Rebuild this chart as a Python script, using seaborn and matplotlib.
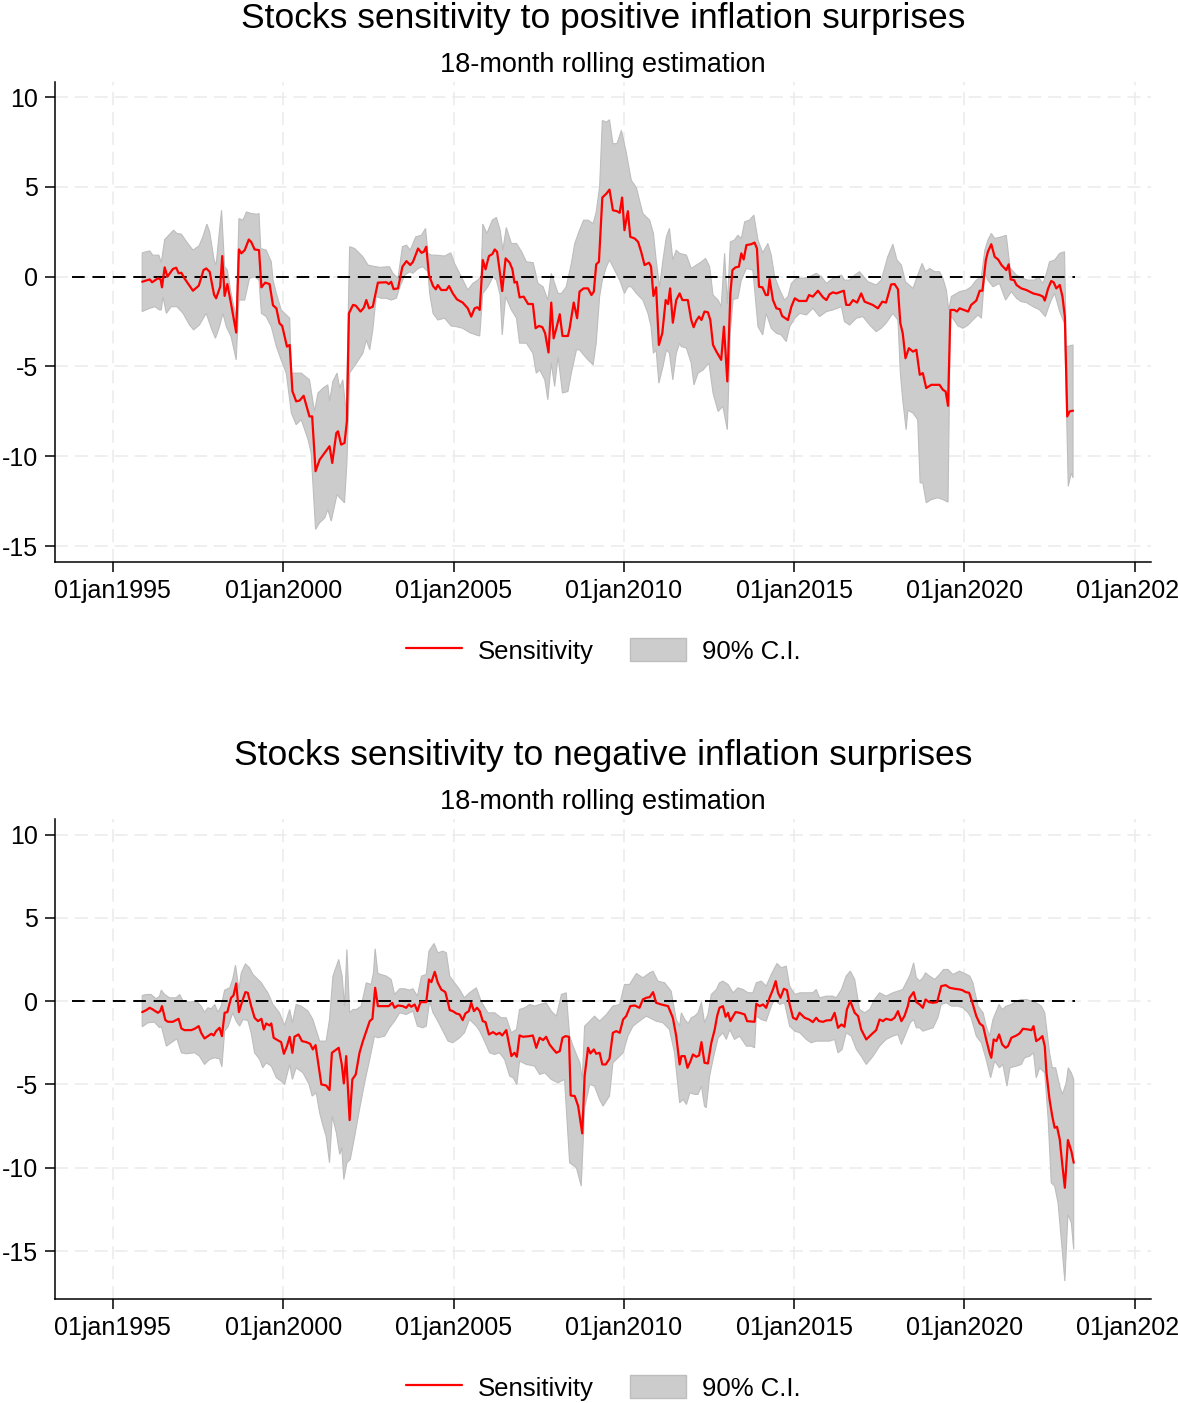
import matplotlib
matplotlib.use("Agg")
import matplotlib.pyplot as plt
from matplotlib.lines import Line2D
from matplotlib.patches import Patch
import seaborn as sns

sns.set_theme(style="white")
plt.rcParams["font.family"] = ["Liberation Sans", "DejaVu Sans"]
plt.rcParams["text.color"] = "black"
plt.rcParams["xtick.color"] = "black"
plt.rcParams["ytick.color"] = "black"

# ---- data: (decimal year, value) ----
pos_sens = [
    (1995.86, -0.28), (1996.08, -0.15), (1996.15, -0.31), (1996.32, -0.09), (1996.40, -0.15), (1996.44, -0.59),
    (1996.52, 0.52), (1996.60, 0.0), (1996.76, 0.43), (1996.86, 0.50), (1996.93, 0.19), (1997.01, 0.22),
    (1997.10, -0.09), (1997.35, -0.78), (1997.52, -0.50), (1997.66, 0.37), (1997.74, 0.46), (1997.84, 0.28),
    (1997.97, -1.0), (1998.03, -1.2), (1998.15, -0.56), (1998.21, 1.15), (1998.28, -1.07), (1998.36, -0.41),
    (1998.47, -1.52), (1998.62, -3.11), (1998.70, 1.52), (1998.77, 1.30), (1998.87, 1.48), (1998.99, 2.07),
    (1999.06, 1.94), (1999.16, 1.52), (1999.29, 1.48), (1999.36, -0.59), (1999.47, -0.33), (1999.60, -0.41),
    (1999.70, -1.59), (1999.80, -1.76), (1999.89, -2.59), (1999.97, -2.74), (2000.11, -3.89), (2000.19, -3.80),
    (2000.27, -6.37), (2000.38, -6.94), (2000.48, -6.90), (2000.60, -6.63), (2000.77, -7.78), (2000.85, -7.78),
    (2000.95, -10.83), (2001.07, -10.19), (2001.36, -9.44), (2001.44, -10.37), (2001.56, -8.70), (2001.61, -8.61),
    (2001.70, -9.35), (2001.80, -9.26), (2001.87, -8.06), (2001.93, -2.04), (2002.05, -1.57), (2002.13, -1.61),
    (2002.27, -1.94), (2002.37, -1.72), (2002.44, -1.30), (2002.52, -1.76), (2002.63, -1.67), (2002.78, -0.33),
    (2003.03, -0.31), (2003.10, -0.41), (2003.17, -0.28), (2003.24, -0.69), (2003.37, -0.65), (2003.50, 0.56),
    (2003.62, 0.87), (2003.73, 0.65), (2003.81, 0.83), (2003.96, 1.57), (2004.06, 1.33), (2004.13, 1.39),
    (2004.20, 1.67), (2004.28, 0.09), (2004.40, -0.52), (2004.48, -0.70), (2004.54, -0.46), (2004.64, -0.74),
    (2004.79, -0.74), (2004.87, -0.52), (2004.98, -0.93), (2005.10, -1.26), (2005.27, -1.44), (2005.42, -1.76),
    (2005.52, -2.22), (2005.62, -1.76), (2005.70, -1.70), (2005.77, -1.85), (2005.86, 0.93), (2005.94, 0.41),
    (2006.04, 1.15), (2006.14, 1.26), (2006.21, 1.52), (2006.28, 1.39), (2006.35, 0.41), (2006.43, -0.80),
    (2006.53, 1.02), (2006.65, 0.78), (2006.73, 0.41), (2006.79, -0.33), (2006.86, -0.28), (2006.94, -1.15),
    (2007.06, -1.11), (2007.19, -1.52), (2007.33, -1.52), (2007.41, -2.87), (2007.51, -2.74), (2007.61, -2.81),
    (2007.69, -3.15), (2007.79, -4.22), (2007.87, -1.44), (2007.94, -3.43), (2008.02, -2.87), (2008.12, -2.09),
    (2008.20, -3.30), (2008.36, -3.30), (2008.41, -2.87), (2008.53, -1.44), (2008.63, -2.31), (2008.70, -0.83),
    (2008.82, -0.65), (2008.95, -0.65), (2009.05, -1.02), (2009.12, -0.83), (2009.19, 0.69), (2009.27, 0.83),
    (2009.37, 4.41), (2009.49, 4.63), (2009.58, 4.85), (2009.68, 3.70), (2009.80, 3.65), (2009.88, 3.56),
    (2009.95, 4.41), (2010.02, 2.59), (2010.07, 3.15), (2010.12, 3.65), (2010.19, 2.22), (2010.32, 2.13),
    (2010.42, 1.94), (2010.51, 1.39), (2010.61, 0.65), (2010.74, 0.78), (2010.80, 0.56), (2010.87, -1.07),
    (2010.95, -0.59), (2011.03, -3.80), (2011.13, -3.15), (2011.23, -1.30), (2011.30, -1.52), (2011.36, -0.65),
    (2011.44, -2.56), (2011.54, -1.30), (2011.64, -0.93), (2011.72, -1.30), (2011.88, -1.30), (2011.98, -2.41),
    (2012.05, -2.81), (2012.13, -2.44), (2012.21, -2.22), (2012.28, -2.41), (2012.37, -1.94), (2012.47, -1.98),
    (2012.54, -2.41), (2012.62, -3.80), (2012.72, -4.17), (2012.86, -4.63), (2012.94, -2.78), (2013.04, -5.83),
    (2013.13, -0.93), (2013.19, 0.37), (2013.28, 0.52), (2013.38, 0.56), (2013.45, 1.30), (2013.52, 0.96),
    (2013.60, 1.76), (2013.74, 1.81), (2013.84, 1.90), (2013.91, 1.57), (2013.97, -0.56), (2014.07, -0.59),
    (2014.17, -1.02), (2014.23, -1.02), (2014.28, -0.13), (2014.38, -1.30), (2014.48, -1.76), (2014.58, -1.81),
    (2014.65, -2.19), (2014.82, -2.41), (2014.92, -1.67), (2015.02, -1.20), (2015.14, -1.35), (2015.36, -1.35),
    (2015.44, -1.02), (2015.55, -1.11), (2015.70, -0.78), (2015.85, -1.15), (2015.95, -1.30), (2016.04, -0.98),
    (2016.14, -0.87), (2016.24, -0.93), (2016.39, -0.83), (2016.46, -0.78), (2016.53, -1.57), (2016.63, -1.57),
    (2016.73, -1.30), (2016.85, -1.44), (2016.97, -0.93), (2017.07, -1.39), (2017.31, -1.57), (2017.46, -1.76),
    (2017.59, -1.39), (2017.70, -1.44), (2017.85, -0.43), (2017.95, -0.41), (2018.05, -0.70), (2018.12, -2.59),
    (2018.19, -3.15), (2018.27, -4.54), (2018.37, -3.98), (2018.49, -4.17), (2018.59, -4.07), (2018.69, -5.46),
    (2018.78, -5.37), (2018.88, -6.20), (2019.03, -6.02), (2019.27, -6.02), (2019.37, -6.30), (2019.45, -6.39),
    (2019.52, -7.19), (2019.59, -1.85), (2019.71, -1.85), (2019.78, -1.94), (2019.86, -1.76), (2020.11, -1.94),
    (2020.20, -1.57), (2020.35, -1.33), (2020.45, -0.78), (2020.53, -0.78), (2020.63, 0.93), (2020.69, 1.39),
    (2020.79, 1.81), (2020.89, 1.11), (2020.99, 0.96), (2021.09, 0.65), (2021.23, 0.37), (2021.30, 0.69),
    (2021.36, -0.15), (2021.46, -0.19), (2021.53, -0.46), (2021.67, -0.65), (2021.82, -0.74), (2022.02, -0.93),
    (2022.21, -1.02), (2022.31, -1.11), (2022.36, -1.33), (2022.46, -0.65), (2022.55, -0.24), (2022.62, -0.31),
    (2022.70, -0.65), (2022.80, -0.46), (2022.88, -1.11), (2022.95, -2.22), (2023.02, -7.78), (2023.09, -7.50),
    (2023.19, -7.46),
]
pos_hi = [
    (1995.86, 1.33), (1996.08, 1.44), (1996.17, 1.20), (1996.35, 1.20), (1996.42, 0.78), (1996.52, 2.07),
    (1996.66, 2.35), (1996.78, 2.59), (1996.88, 2.41), (1997.01, 2.37), (1997.15, 1.98), (1997.35, 1.48),
    (1997.53, 1.72), (1997.64, 2.22), (1997.76, 2.93), (1997.84, 2.50), (1997.97, 0.93), (1998.03, 0.65),
    (1998.11, 2.22), (1998.19, 3.70), (1998.28, 0.56), (1998.36, 0.37), (1998.47, -0.93), (1998.62, -2.3),
    (1998.70, 3.24), (1998.82, 3.15), (1998.92, 3.61), (1999.06, 3.52), (1999.23, 3.48), (1999.29, 3.52),
    (1999.34, 1.57), (1999.50, 1.48), (1999.65, 0.83), (1999.70, -0.19), (1999.80, -0.93), (1999.94, -1.85),
    (2000.19, -2.31), (2000.24, -5.37), (2000.38, -5.37), (2000.53, -5.37), (2000.77, -5.74), (2000.92, -7.50),
    (2001.02, -6.48), (2001.17, -6.20), (2001.31, -6.02), (2001.36, -6.94), (2001.46, -5.83), (2001.58, -5.37),
    (2001.66, -6.20), (2001.75, -5.74), (2001.85, -7.6), (2001.95, 1.67), (2002.10, 1.57), (2002.34, 1.11),
    (2002.49, 0.65), (2002.63, 0.59), (2002.83, 0.52), (2003.12, 0.56), (2003.22, 0.19), (2003.37, -0.09),
    (2003.50, 1.67), (2003.62, 1.76), (2003.73, 1.48), (2003.89, 2.22), (2004.06, 2.31), (2004.18, 2.69),
    (2004.25, 1.30), (2004.35, 1.20), (2004.50, 1.20), (2004.74, 1.15), (2004.92, 1.33), (2005.03, 0.74),
    (2005.18, 0.19), (2005.42, -0.74), (2005.57, -0.37), (2005.71, -0.19), (2005.81, 0.0), (2005.86, 2.93),
    (2005.98, 2.41), (2006.14, 3.15), (2006.26, 3.30), (2006.37, 2.59), (2006.45, 1.48), (2006.55, 2.74),
    (2006.70, 1.85), (2006.85, 1.85), (2007.00, 1.39), (2007.14, 0.83), (2007.34, 0.78), (2007.48, -0.37),
    (2007.63, -0.56), (2007.77, -1.30), (2007.87, 0.19), (2007.97, -0.37), (2008.07, -0.93), (2008.17, -0.93),
    (2008.31, -0.56), (2008.46, 0.74), (2008.56, 1.85), (2008.70, 2.59), (2008.82, 3.15), (2008.95, 3.15),
    (2009.10, 2.96), (2009.19, 3.61), (2009.29, 5.0), (2009.37, 8.70), (2009.49, 8.61), (2009.58, 8.74),
    (2009.68, 7.41), (2009.80, 7.41), (2009.93, 8.15), (2010.07, 6.94), (2010.22, 5.37), (2010.37, 4.96),
    (2010.56, 3.52), (2010.76, 3.15), (2010.87, 2.41), (2010.95, 0.93), (2011.05, -0.56), (2011.15, 0.93),
    (2011.25, 2.22), (2011.34, 2.69), (2011.44, 0.93), (2011.54, 1.48), (2011.64, 1.30), (2011.84, 1.20),
    (2011.98, 0.46), (2012.13, 0.65), (2012.28, 0.83), (2012.40, 1.02), (2012.52, 0.56), (2012.62, -1.02),
    (2012.77, -1.30), (2012.86, -1.67), (2012.96, 1.30), (2013.04, -1.5), (2013.13, 1.94), (2013.25, 2.04),
    (2013.35, 2.31), (2013.45, 2.13), (2013.55, 3.06), (2013.69, 3.15), (2013.82, 3.43), (2013.94, 2.04),
    (2014.08, 1.33), (2014.23, 1.85), (2014.33, 1.20), (2014.43, 0.0), (2014.58, -0.74), (2014.72, -1.30),
    (2014.82, -1.11), (2014.92, -0.37), (2015.07, -0.09), (2015.26, -0.09), (2015.46, 0.0), (2015.65, 0.19),
    (2015.80, 0.0), (2015.95, -0.37), (2016.14, -0.09), (2016.39, 0.09), (2016.48, -0.19), (2016.63, -0.19),
    (2016.78, 0.09), (2016.92, 0.28), (2017.17, -0.28), (2017.41, -0.46), (2017.56, -0.19), (2017.75, 1.11),
    (2017.90, 1.81), (2018.02, 0.93), (2018.15, 0.65), (2018.27, -0.28), (2018.49, -0.65), (2018.63, 0.09),
    (2018.76, 0.74), (2018.86, 0.28), (2018.98, 0.46), (2019.13, 0.28), (2019.27, 0.28), (2019.37, -0.09),
    (2019.47, -0.74), (2019.54, -1.85), (2019.62, -1.1), (2019.86, -0.83), (2020.06, -0.74), (2020.20, -0.56),
    (2020.35, -0.19), (2020.50, 0.0), (2020.60, 1.48), (2020.69, 2.04), (2020.79, 2.41), (2020.89, 2.13),
    (2021.09, 2.22), (2021.23, 2.31), (2021.34, 0.5), (2021.53, 0.09), (2021.72, -0.09), (2021.87, -0.19),
    (2022.06, -0.19), (2022.16, 0.0), (2022.31, -0.37), (2022.41, 0.19), (2022.50, 0.83), (2022.65, 0.93),
    (2022.80, 1.30), (2022.94, 1.39), (2022.99, -3.9), (2023.19, -3.80),
]
pos_lo = [
    (1995.86, -1.94), (1996.08, -1.76), (1996.23, -1.67), (1996.37, -1.85), (1996.42, -1.85), (1996.47, -1.11),
    (1996.57, -2.04), (1996.71, -1.67), (1996.88, -1.67), (1997.06, -2.04), (1997.25, -2.69), (1997.37, -2.96),
    (1997.54, -2.69), (1997.74, -2.04), (1997.89, -2.87), (1998.01, -3.43), (1998.13, -2.78), (1998.23, -2.04),
    (1998.33, -2.78), (1998.47, -3.33), (1998.62, -4.63), (1998.70, -1.30), (1998.87, -1.30), (1999.01, -0.09),
    (1999.16, 0.0), (1999.29, -0.19), (1999.36, -2.04), (1999.50, -2.22), (1999.65, -2.78), (1999.80, -3.89),
    (1999.94, -4.63), (2000.09, -5.37), (2000.24, -7.59), (2000.38, -8.24), (2000.53, -7.96), (2000.73, -9.07),
    (2000.82, -9.81), (2000.95, -14.07), (2001.07, -13.70), (2001.22, -13.43), (2001.31, -12.96), (2001.41, -13.61),
    (2001.58, -12.13), (2001.66, -12.31), (2001.80, -12.59), (2001.87, -10.37), (2001.95, -5.37), (2002.15, -4.81),
    (2002.34, -4.26), (2002.44, -3.52), (2002.54, -4.07), (2002.63, -2.96), (2002.73, -1.11), (2002.88, -1.20),
    (2003.03, -1.20), (2003.17, -1.30), (2003.32, -1.20), (2003.42, -0.6), (2003.57, 0.09), (2003.71, 0.28),
    (2003.81, 0.19), (2003.96, 0.46), (2004.10, 0.56), (2004.25, 0.28), (2004.30, -0.93), (2004.40, -2.04),
    (2004.54, -2.41), (2004.74, -2.31), (2004.93, -2.74), (2005.08, -2.78), (2005.27, -2.87), (2005.47, -3.11),
    (2005.66, -3.24), (2005.77, -3.30), (2005.86, -0.93), (2006.01, -0.56), (2006.16, 0.0), (2006.26, -0.19),
    (2006.37, -1.02), (2006.43, -3.24), (2006.53, -1.11), (2006.70, -1.85), (2006.85, -2.31), (2006.94, -3.70),
    (2007.14, -3.70), (2007.33, -4.26), (2007.43, -5.37), (2007.53, -5.19), (2007.68, -5.74), (2007.77, -6.85),
    (2007.87, -4.81), (2007.97, -6.11), (2008.07, -4.44), (2008.20, -6.48), (2008.36, -6.39), (2008.46, -5.37),
    (2008.61, -4.07), (2008.70, -4.07), (2008.82, -4.35), (2008.95, -4.63), (2009.10, -4.91), (2009.19, -3.70),
    (2009.29, -1.11), (2009.37, -0.19), (2009.49, 0.56), (2009.58, 0.93), (2009.68, 0.56), (2009.88, -0.19),
    (2010.02, -0.93), (2010.12, -0.56), (2010.22, -0.56), (2010.37, -0.93), (2010.56, -1.30), (2010.71, -2.04),
    (2010.80, -2.78), (2010.87, -4.26), (2010.95, -4.07), (2011.03, -5.93), (2011.15, -5.0), (2011.25, -4.07),
    (2011.34, -4.26), (2011.44, -5.74), (2011.54, -4.26), (2011.64, -3.70), (2011.69, -3.89), (2011.84, -3.98),
    (2011.98, -4.81), (2012.06, -6.02), (2012.18, -5.37), (2012.33, -5.19), (2012.50, -4.81), (2012.62, -6.48),
    (2012.77, -7.50), (2012.91, -7.22), (2013.04, -8.52), (2013.13, -2.96), (2013.21, -1.26), (2013.35, -1.20),
    (2013.45, -0.19), (2013.60, 0.46), (2013.79, 0.37), (2013.94, -2.78), (2014.08, -3.24), (2014.18, -2.04),
    (2014.33, -2.87), (2014.48, -3.15), (2014.62, -3.24), (2014.77, -3.61), (2014.87, -2.78), (2015.02, -2.31),
    (2015.17, -2.04), (2015.36, -2.13), (2015.55, -1.76), (2015.75, -2.22), (2015.95, -1.94), (2016.14, -1.85),
    (2016.39, -1.67), (2016.48, -2.50), (2016.63, -2.69), (2016.83, -2.31), (2017.02, -2.22), (2017.22, -2.69),
    (2017.41, -3.06), (2017.56, -2.87), (2017.70, -2.59), (2017.90, -2.04), (2018.05, -2.41), (2018.12, -5.37),
    (2018.19, -6.85), (2018.29, -8.52), (2018.34, -7.44), (2018.49, -7.59), (2018.63, -7.96), (2018.70, -11.48),
    (2018.78, -11.48), (2018.88, -12.59), (2019.03, -12.41), (2019.22, -12.31), (2019.37, -12.41), (2019.52, -12.55),
    (2019.59, -2.2), (2019.66, -2.31), (2019.81, -2.74), (2019.96, -2.87), (2020.11, -2.69), (2020.25, -2.41),
    (2020.40, -2.13), (2020.50, -2.31), (2020.60, 0.19), (2020.69, -0.19), (2020.84, -0.56), (2021.03, -0.37),
    (2021.21, -1.30), (2021.38, -0.83), (2021.53, -1.20), (2021.67, -1.39), (2021.82, -1.44), (2022.02, -1.67),
    (2022.21, -1.85), (2022.38, -2.22), (2022.46, -1.76), (2022.55, -1.30), (2022.65, -0.93), (2022.80, -1.94),
    (2022.94, -2.6), (2023.05, -11.67), (2023.14, -10.93), (2023.19, -11.20),
]

neg_sens = [
    (1995.86, -0.66), (1995.98, -0.54), (1996.08, -0.40), (1996.17, -0.50), (1996.32, -0.70), (1996.39, -0.60),
    (1996.44, -0.30), (1996.54, -1.14), (1996.62, -1.24), (1996.76, -1.24), (1996.93, -1.06), (1997.01, -1.64),
    (1997.10, -1.74), (1997.30, -1.74), (1997.40, -1.66), (1997.52, -1.50), (1997.59, -1.90), (1997.69, -2.24),
    (1997.79, -2.10), (1997.89, -1.96), (1997.96, -2.06), (1998.03, -1.80), (1998.13, -1.60), (1998.20, -2.10),
    (1998.28, -0.70), (1998.36, -0.66), (1998.47, 0.20), (1998.54, 0.34), (1998.62, 1.06), (1998.70, -0.66),
    (1998.79, -0.06), (1998.89, 0.54), (1998.96, 0.50), (1999.06, -0.30), (1999.16, -1.00), (1999.26, -1.20),
    (1999.36, -1.06), (1999.43, -1.70), (1999.50, -1.34), (1999.60, -1.46), (1999.65, -1.34), (1999.72, -2.20),
    (1999.85, -2.36), (1999.94, -2.46), (2000.02, -3.16), (2000.11, -2.70), (2000.19, -2.14), (2000.27, -3.10),
    (2000.33, -2.14), (2000.45, -2.00), (2000.55, -2.40), (2000.68, -2.46), (2000.79, -2.56), (2000.87, -2.90),
    (2000.95, -2.64), (2001.12, -5.00), (2001.26, -5.06), (2001.36, -5.34), (2001.43, -3.10), (2001.56, -2.90),
    (2001.63, -2.80), (2001.72, -3.80), (2001.78, -4.94), (2001.85, -3.30), (2001.95, -7.14), (2002.03, -4.70),
    (2002.13, -4.40), (2002.24, -3.10), (2002.34, -2.40), (2002.44, -1.80), (2002.54, -1.20), (2002.62, -1.06),
    (2002.70, 0.80), (2002.78, -0.30), (2002.98, -0.30), (2003.10, -0.30), (2003.20, -0.10), (2003.27, -0.40),
    (2003.37, -0.26), (2003.51, -0.30), (2003.61, -0.40), (2003.69, -0.20), (2003.76, -0.34), (2003.86, -0.20),
    (2003.94, -0.60), (2004.03, -0.06), (2004.20, -0.06), (2004.28, 1.30), (2004.35, 1.14), (2004.45, 1.76),
    (2004.54, 1.10), (2004.64, 0.70), (2004.76, 0.54), (2004.84, -0.10), (2004.89, -0.54), (2004.98, -0.60),
    (2005.08, -0.74), (2005.18, -0.80), (2005.27, -1.14), (2005.35, -0.74), (2005.45, -0.60), (2005.52, -0.10),
    (2005.60, -0.60), (2005.69, -0.40), (2005.77, -0.60), (2005.86, -1.20), (2005.94, -1.26), (2006.04, -2.00),
    (2006.16, -1.86), (2006.26, -2.00), (2006.35, -1.90), (2006.43, -2.06), (2006.55, -1.74), (2006.65, -2.80),
    (2006.70, -3.30), (2006.79, -3.10), (2006.86, -3.34), (2006.94, -2.06), (2007.04, -2.14), (2007.24, -2.10),
    (2007.33, -2.06), (2007.43, -2.80), (2007.53, -2.20), (2007.63, -2.34), (2007.72, -2.14), (2007.82, -2.60),
    (2007.92, -2.86), (2008.02, -3.10), (2008.12, -3.00), (2008.20, -2.20), (2008.29, -2.10), (2008.39, -2.14),
    (2008.44, -5.66), (2008.56, -5.70), (2008.66, -6.30), (2008.78, -7.94), (2008.85, -4.50), (2008.95, -2.80),
    (2009.02, -3.14), (2009.12, -2.90), (2009.19, -3.16), (2009.29, -3.10), (2009.37, -3.80), (2009.47, -3.80),
    (2009.58, -3.46), (2009.68, -1.90), (2009.78, -1.80), (2009.88, -1.90), (2009.98, -1.10), (2010.07, -0.90),
    (2010.19, -0.30), (2010.32, -0.26), (2010.46, -0.40), (2010.56, 0.10), (2010.66, 0.20), (2010.76, 0.24),
    (2010.86, 0.54), (2010.95, -0.10), (2011.10, -0.20), (2011.30, -0.30), (2011.44, -1.00), (2011.54, -2.10),
    (2011.64, -3.80), (2011.69, -3.30), (2011.79, -3.30), (2011.87, -4.00), (2011.96, -3.60), (2012.03, -3.20),
    (2012.13, -3.34), (2012.21, -3.26), (2012.28, -2.46), (2012.37, -3.70), (2012.47, -3.74), (2012.57, -2.50),
    (2012.67, -1.70), (2012.74, -0.90), (2012.81, -0.40), (2012.91, -0.30), (2012.99, -0.94), (2013.06, -0.70),
    (2013.13, -1.20), (2013.21, -0.90), (2013.28, -0.66), (2013.40, -0.70), (2013.55, -0.80), (2013.62, -1.20),
    (2013.84, -1.24), (2013.89, -0.16), (2013.99, -0.30), (2014.09, -0.20), (2014.18, -0.40), (2014.28, 0.20),
    (2014.38, 0.70), (2014.46, 1.20), (2014.53, 0.50), (2014.60, 0.20), (2014.70, 0.74), (2014.79, 0.66),
    (2014.87, -0.20), (2014.97, -1.00), (2015.07, -1.10), (2015.16, -0.70), (2015.31, -1.00), (2015.44, -1.10),
    (2015.55, -1.26), (2015.65, -1.00), (2015.73, -1.20), (2015.85, -1.24), (2015.95, -1.16), (2016.09, -1.14),
    (2016.19, -0.70), (2016.29, -1.60), (2016.39, -1.40), (2016.48, -1.54), (2016.55, -0.50), (2016.65, 0.0),
    (2016.78, -0.70), (2016.88, -0.90), (2016.97, -1.70), (2017.12, -2.30), (2017.27, -2.00), (2017.41, -1.74),
    (2017.51, -1.10), (2017.61, -1.20), (2017.70, -1.06), (2017.85, -1.14), (2017.95, -1.00), (2018.05, -0.60),
    (2018.15, -1.20), (2018.24, -0.90), (2018.34, -0.30), (2018.39, 0.20), (2018.51, 0.54), (2018.59, -0.06),
    (2018.69, -0.20), (2018.78, -0.40), (2018.86, 0.10), (2018.96, -0.06), (2019.08, -0.10), (2019.20, -0.06),
    (2019.32, 0.90), (2019.45, 0.96), (2019.57, 0.80), (2019.72, 0.74), (2019.86, 0.70), (2019.94, 0.66),
    (2020.04, 0.54), (2020.14, 0.50), (2020.23, -0.06), (2020.35, -0.90), (2020.45, -1.34), (2020.55, -1.50),
    (2020.64, -2.30), (2020.74, -3.10), (2020.79, -3.40), (2020.86, -2.30), (2020.94, -2.40), (2021.02, -2.00),
    (2021.11, -2.60), (2021.21, -2.80), (2021.28, -2.70), (2021.38, -2.20), (2021.53, -2.06), (2021.62, -1.94),
    (2021.72, -1.66), (2021.87, -1.70), (2021.97, -1.74), (2022.03, -1.50), (2022.11, -2.40), (2022.21, -2.26),
    (2022.29, -2.10), (2022.36, -2.70), (2022.41, -4.30), (2022.50, -5.90), (2022.58, -6.90), (2022.65, -7.60),
    (2022.72, -7.54), (2022.80, -8.30), (2022.88, -9.90), (2022.95, -11.20), (2023.04, -8.34), (2023.14, -9.00),
    (2023.21, -9.70),
]
neg_hi = [
    (1995.86, 0.34), (1995.98, 0.40), (1996.12, 0.40), (1996.27, 0.14), (1996.37, 0.30), (1996.42, 0.66),
    (1996.52, 0.40), (1996.66, 0.20), (1996.86, 0.20), (1996.96, 0.40), (1997.06, 0.0), (1997.25, -0.06),
    (1997.45, 0.0), (1997.59, -0.30), (1997.69, -0.66), (1997.79, -0.40), (1997.89, -0.46), (1997.99, -0.20),
    (1998.08, -0.66), (1998.18, -0.30), (1998.28, 0.66), (1998.43, 0.80), (1998.52, 1.34), (1998.60, 2.16),
    (1998.70, 0.70), (1998.77, 1.70), (1998.89, 2.24), (1999.01, 2.00), (1999.11, 1.60), (1999.26, 1.30),
    (1999.36, 1.10), (1999.45, 0.80), (1999.55, 0.50), (1999.70, -0.20), (1999.89, -0.70), (2000.04, -1.46),
    (2000.19, -0.50), (2000.27, -1.30), (2000.38, -0.20), (2000.53, -0.30), (2000.73, -0.60), (2000.87, -1.10),
    (2001.07, -2.40), (2001.26, -2.40), (2001.36, -1.10), (2001.46, 1.50), (2001.63, 2.50), (2001.73, 1.50),
    (2001.80, -0.30), (2001.87, 3.10), (2001.95, -0.70), (2002.05, -0.50), (2002.15, -0.50), (2002.29, -0.30),
    (2002.44, 1.10), (2002.58, 1.00), (2002.65, 1.70), (2002.70, 3.14), (2002.78, 1.66), (2003.03, 1.50),
    (2003.17, 1.30), (2003.27, 0.40), (2003.42, 0.74), (2003.57, 0.74), (2003.71, 0.66), (2003.81, 0.74),
    (2003.94, 0.30), (2004.06, 1.50), (2004.20, 1.60), (2004.28, 3.00), (2004.43, 3.46), (2004.54, 2.90),
    (2004.69, 3.00), (2004.79, 2.90), (2004.89, 1.50), (2005.03, 1.10), (2005.18, 0.70), (2005.32, 0.20),
    (2005.47, 0.50), (2005.67, 0.80), (2005.81, 0.0), (2006.01, -0.70), (2006.21, -0.70), (2006.40, -1.00),
    (2006.55, -1.00), (2006.70, -1.90), (2006.85, -1.70), (2006.94, -0.50), (2007.09, -0.40), (2007.24, -0.20),
    (2007.38, -0.30), (2007.53, -0.20), (2007.72, -0.10), (2007.87, -0.60), (2008.02, -0.90), (2008.17, 0.40),
    (2008.31, 0.50), (2008.41, -2.10), (2008.51, -2.70), (2008.71, -3.70), (2008.78, -4.70), (2008.85, -1.50),
    (2009.00, -1.20), (2009.14, -0.90), (2009.29, -1.20), (2009.49, -0.80), (2009.68, -0.30), (2009.88, -0.20),
    (2010.02, 1.00), (2010.17, 1.00), (2010.37, 1.66), (2010.56, 1.40), (2010.76, 1.70), (2010.86, 1.80),
    (2011.00, 1.20), (2011.20, 1.10), (2011.39, 0.60), (2011.54, -1.10), (2011.64, -1.50), (2011.69, -0.70),
    (2011.79, -1.10), (2011.89, -1.34), (2011.98, -1.00), (2012.08, -0.90), (2012.18, -0.70), (2012.28, -0.06),
    (2012.37, -1.30), (2012.47, -0.80), (2012.57, 0.40), (2012.72, 0.70), (2012.81, 1.10), (2012.91, 1.20),
    (2013.06, 1.00), (2013.21, 0.50), (2013.35, 0.80), (2013.50, 0.70), (2013.65, 0.50), (2013.79, 0.50),
    (2013.89, 1.10), (2014.04, 1.20), (2014.18, 0.90), (2014.33, 1.60), (2014.43, 2.00), (2014.50, 2.26),
    (2014.62, 2.00), (2014.77, 2.10), (2014.87, 0.90), (2015.02, 0.40), (2015.17, 0.50), (2015.36, 0.50),
    (2015.55, 0.50), (2015.65, 0.70), (2015.75, 0.20), (2015.95, 0.30), (2016.14, 0.30), (2016.24, 0.20),
    (2016.39, 0.70), (2016.53, 1.50), (2016.65, 1.80), (2016.78, 1.30), (2016.92, -0.50), (2017.07, -0.70),
    (2017.22, -0.50), (2017.36, 0.10), (2017.51, 0.50), (2017.70, 0.30), (2017.90, 0.50), (2018.05, 0.60),
    (2018.19, 0.70), (2018.34, 1.30), (2018.41, 1.60), (2018.51, 2.30), (2018.59, 1.40), (2018.69, 1.20),
    (2018.78, 1.40), (2018.86, 1.70), (2018.98, 1.50), (2019.13, 1.30), (2019.27, 1.60), (2019.39, 1.90),
    (2019.52, 1.90), (2019.66, 1.60), (2019.86, 1.80), (2020.01, 1.66), (2020.16, 1.50), (2020.25, 1.10),
    (2020.40, -0.30), (2020.55, -0.70), (2020.64, -1.50), (2020.74, -2.10), (2020.84, -1.10), (2020.94, -0.60),
    (2021.02, -0.20), (2021.11, -0.50), (2021.23, -0.30), (2021.38, -0.20), (2021.53, 0.0), (2021.67, 0.10),
    (2021.82, 0.10), (2021.97, 0.0), (2022.11, -0.10), (2022.26, -0.30), (2022.36, -0.70), (2022.50, -3.10),
    (2022.58, -4.00), (2022.68, -4.00), (2022.80, -5.10), (2022.88, -5.60), (2022.99, -4.90), (2023.05, -4.00),
    (2023.14, -4.30), (2023.21, -4.70),
]
neg_lo = [
    (1995.86, -1.54), (1996.03, -1.30), (1996.22, -1.26), (1996.37, -1.60), (1996.42, -1.50), (1996.57, -2.70),
    (1996.71, -2.50), (1996.88, -2.26), (1997.01, -3.10), (1997.15, -3.16), (1997.40, -3.10), (1997.54, -3.30),
    (1997.69, -3.80), (1997.84, -3.50), (1997.99, -3.40), (1998.13, -3.46), (1998.20, -3.94), (1998.28, -1.80),
    (1998.38, -1.54), (1998.52, -0.70), (1998.62, -1.20), (1998.72, -1.50), (1998.82, -1.10), (1998.96, -1.16),
    (1999.06, -1.90), (1999.16, -3.10), (1999.31, -3.50), (1999.40, -4.00), (1999.50, -3.70), (1999.65, -3.90),
    (1999.80, -4.60), (1999.94, -4.80), (2000.04, -5.00), (2000.19, -3.80), (2000.27, -4.70), (2000.38, -4.00),
    (2000.58, -4.30), (2000.76, -5.00), (2000.85, -5.70), (2000.97, -5.50), (2001.07, -6.70), (2001.17, -7.50),
    (2001.26, -8.10), (2001.36, -9.70), (2001.44, -6.90), (2001.56, -7.90), (2001.66, -9.20), (2001.72, -8.80),
    (2001.78, -10.70), (2001.87, -9.70), (2001.97, -9.50), (2002.10, -8.10), (2002.24, -6.50), (2002.39, -4.90),
    (2002.54, -3.50), (2002.68, -2.10), (2002.78, -2.20), (2002.98, -2.10), (2003.12, -1.60), (2003.27, -1.20),
    (2003.42, -0.70), (2003.61, -0.80), (2003.81, -0.60), (2003.94, -1.50), (2004.10, -1.60), (2004.20, -1.50),
    (2004.30, 0.0), (2004.40, -0.70), (2004.54, -1.20), (2004.69, -1.80), (2004.84, -2.40), (2004.98, -2.50),
    (2005.18, -2.20), (2005.32, -1.90), (2005.47, -1.10), (2005.67, -1.50), (2005.77, -1.80), (2005.91, -2.40),
    (2006.06, -3.10), (2006.21, -3.20), (2006.35, -3.10), (2006.50, -3.50), (2006.65, -4.50), (2006.75, -4.60),
    (2006.86, -5.00), (2006.94, -3.60), (2007.14, -3.80), (2007.38, -3.90), (2007.53, -4.40), (2007.68, -4.30),
    (2007.87, -4.70), (2008.07, -4.90), (2008.26, -4.70), (2008.41, -9.70), (2008.61, -10.00), (2008.75, -11.10),
    (2008.85, -6.40), (2009.00, -5.00), (2009.14, -5.10), (2009.29, -5.90), (2009.39, -6.30), (2009.58, -5.70),
    (2009.68, -3.70), (2009.88, -3.30), (2009.98, -3.10), (2010.12, -2.10), (2010.27, -1.50), (2010.46, -1.20),
    (2010.66, -0.90), (2010.95, -1.20), (2011.15, -1.30), (2011.34, -1.70), (2011.49, -3.10), (2011.64, -6.10),
    (2011.74, -5.90), (2011.84, -6.20), (2011.94, -5.50), (2012.08, -5.60), (2012.18, -5.60), (2012.28, -5.10),
    (2012.37, -6.30), (2012.42, -6.40), (2012.52, -4.50), (2012.62, -3.50), (2012.77, -2.20), (2012.91, -1.90),
    (2013.01, -2.30), (2013.11, -1.70), (2013.25, -2.30), (2013.40, -2.10), (2013.60, -2.70), (2013.74, -2.70),
    (2013.84, -2.80), (2013.89, -0.90), (2014.04, -1.10), (2014.18, -1.20), (2014.33, -0.30), (2014.43, 0.10),
    (2014.58, -0.20), (2014.72, -0.10), (2014.87, -1.50), (2015.02, -1.80), (2015.17, -1.90), (2015.36, -2.30),
    (2015.50, -2.50), (2015.65, -2.40), (2015.85, -2.40), (2016.04, -2.40), (2016.19, -2.30), (2016.29, -3.10),
    (2016.41, -2.90), (2016.53, -1.90), (2016.68, -2.10), (2016.83, -2.90), (2016.97, -3.30), (2017.12, -3.80),
    (2017.32, -3.30), (2017.51, -2.70), (2017.70, -2.30), (2017.90, -2.10), (2018.05, -2.00), (2018.15, -2.60),
    (2018.29, -1.90), (2018.41, -1.30), (2018.51, -1.10), (2018.59, -1.60), (2018.69, -1.60), (2018.78, -1.80),
    (2018.93, -1.70), (2019.08, -1.60), (2019.22, -1.00), (2019.32, -0.20), (2019.47, -0.10), (2019.62, -0.30),
    (2019.81, -0.30), (2019.96, -0.40), (2020.11, -0.70), (2020.20, -1.00), (2020.35, -2.10), (2020.50, -2.50),
    (2020.64, -3.50), (2020.77, -4.60), (2020.89, -3.60), (2021.03, -4.00), (2021.13, -3.80), (2021.25, -5.10),
    (2021.34, -4.00), (2021.53, -3.90), (2021.67, -3.80), (2021.77, -3.40), (2021.92, -3.30), (2022.03, -3.10),
    (2022.11, -4.60), (2022.21, -4.00), (2022.36, -4.30), (2022.46, -7.10), (2022.55, -10.90), (2022.65, -11.10),
    (2022.75, -12.10), (2022.88, -15.10), (2022.95, -16.80), (2023.04, -12.80), (2023.14, -13.30), (2023.21, -14.90),
]

tick_years = [1995, 2000, 2005, 2010, 2015, 2020, 2025]
tick_labels = ["01jan" + str(y) for y in tick_years]
y_ticks = [-15, -10, -5, 0, 5, 10]
y_labels = ["-15", "-10", "-5", "0", "5", "10"]
zero_span = [1993.8, 2023.24]

titles = ["Stocks sensitivity to positive inflation surprises",
          "Stocks sensitivity to negative inflation surprises"]
subtitle = "18-month rolling estimation"

BAND = "#cccccc"
BAND_EDGE = "#bdbdbd"

fig = plt.figure(figsize=(11.78, 14.03), dpi=100)
ax_top = fig.add_axes([0.0467, 0.5994, 0.9304, 0.3421])
ax_bot = fig.add_axes([0.0467, 0.0741, 0.9304, 0.3419])


def draw_panel(ax, mid, hi, lo, ylim):
    hx, hy = zip(*hi)
    lx, ly = zip(*lo)
    ax.fill(list(hx) + list(lx[::-1]), list(hy) + list(ly[::-1]),
            facecolor=BAND, edgecolor=BAND_EDGE, lw=0.8, zorder=2)
    ax.plot(zero_span, [0, 0], color="black", lw=1.4, dashes=(6.5, 4), zorder=3)
    mx, my = zip(*mid)
    sns.lineplot(x=list(mx), y=list(my), ax=ax, color="red", lw=1.6,
                 estimator=None, sort=False, legend=False, zorder=4)

    ax.set_xlim(1993.3, 2025.48)
    ax.set_ylim(*ylim)
    ax.set_xticks(tick_years)
    ax.set_xticklabels(tick_labels)
    ax.set_yticks(y_ticks)
    ax.set_yticklabels(y_labels)
    ax.set_xlabel("")
    ax.set_ylabel("")
    ax.grid(True, color="#ebebeb", lw=1.1, linestyle=(0, (8.5, 4.5)))
    ax.set_axisbelow(True)
    for side in ["top", "right"]:
        ax.spines[side].set_visible(False)
    for side in ["left", "bottom"]:
        ax.spines[side].set_color("black")
        ax.spines[side].set_linewidth(1.1)
    ax.tick_params(axis="both", which="major", bottom=True, left=True, direction="out",
                   length=7, width=1.1, color="black", labelsize=18, labelcolor="black", pad=5)


draw_panel(ax_top, pos_sens, pos_hi, pos_lo, (-15.89, 10.84))
draw_panel(ax_bot, neg_sens, neg_hi, neg_lo, (-17.88, 10.91))

cx = 0.5119
fig.text(cx, 0.9798, titles[0], ha="center", va="baseline", fontsize=25.5, color="black")
fig.text(cx, 0.9487, subtitle, ha="center", va="baseline", fontsize=19.5, color="black")
fig.text(cx, 0.4547, titles[1], ha="center", va="baseline", fontsize=25.5, color="black")
fig.text(cx, 0.4234, subtitle, ha="center", va="baseline", fontsize=19.5, color="black")

handles = [Line2D([], [], color="red", lw=1.6),
           Patch(facecolor=BAND, edgecolor=BAND_EDGE)]
labels = ["Sensitivity", "90% C.I."]
for ly in [0.5360, 0.0107]:
    fig.legend(handles, labels, loc="center", bbox_to_anchor=(cx, ly), ncol=2,
               frameon=False, fontsize=18.5, handlelength=2.2, handleheight=1.0,
               handletextpad=0.6, columnspacing=1.4, labelcolor="black")

fig.savefig("out.png", dpi=100)
